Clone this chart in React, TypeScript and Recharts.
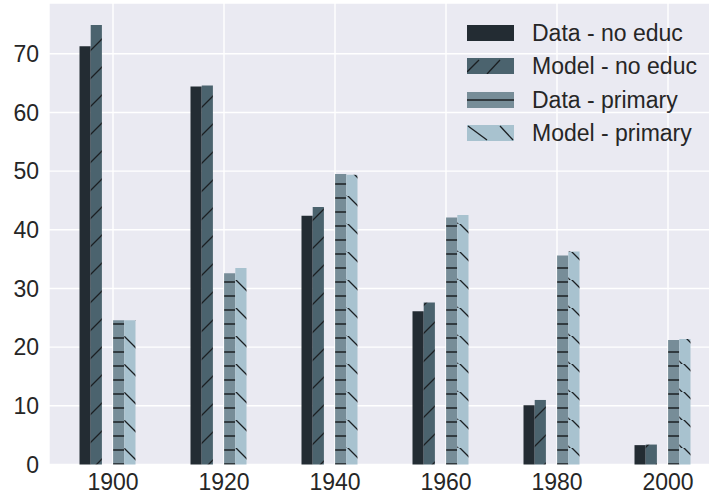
import { BarChart, Bar, XAxis, YAxis, CartesianGrid } from 'recharts';

const years = ['1900', '1920', '1940', '1960', '1980', '2000'];
const dataNoEduc = [71.3, 64.4, 42.4, 26.1, 10.1, 3.3];
const modelNoEduc = [74.9, 64.6, 43.9, 27.6, 11.0, 3.4];
const dataPrimary = [24.6, 32.6, 49.5, 42.1, 35.6, 21.2];
const modelPrimary = [24.6, 33.5, 49.4, 42.5, 36.3, 21.4];
const yTicks = [0, 10, 20, 30, 40, 50, 60, 70];

const COLORS = {
  dataNoEduc: '#232c33',
  modelNoEduc: '#4b636e',
  dataPrimary: '#778d98',
  modelPrimary: '#a8c2cf',
  hatch: '#1b1f22',
};

const FONT = '"Liberation Sans", Arial, sans-serif';
const TEXT = '#262626';
const FONT_SIZE = 23;

const chartData = years.map((year, i) => ({
  year,
  dataNoEduc: dataNoEduc[i],
  modelNoEduc: modelNoEduc[i],
  dataPrimary: dataPrimary[i],
  modelPrimary: modelPrimary[i],
}));

const legendItems = [
  { label: 'Data - no educ', color: COLORS.dataNoEduc, hatch: '' },
  { label: 'Model - no educ', color: COLORS.modelNoEduc, hatch: '/' },
  { label: 'Data - primary', color: COLORS.dataPrimary, hatch: '-' },
  { label: 'Model - primary', color: COLORS.modelPrimary, hatch: '\\' },
];

// legend drawn by hand so the hatched swatches match the bars
function LegendBox() {
  return (
    <div style={{ position: 'absolute', left: 467, top: 25, width: 245, height: 140 }}>
      {legendItems.map((item, i) => {
        const top = i * 33.4;
        return (
          <div key={item.label} style={{ position: 'absolute', left: 0, top, height: 16, width: 245 }}>
            <svg width={47} height={16} style={{ position: 'absolute', left: 0, top: 0 }}>
              <rect x={0} y={0} width={47} height={16} fill={item.color} />
              {item.hatch === '/' && (
                <g stroke={COLORS.hatch} strokeWidth={1.3}>
                  <line x1={0} y1={14} x2={12} y2={2} />
                  <line x1={20} y1={16} x2={33} y2={2} />
                </g>
              )}
              {item.hatch === '-' && (
                <line x1={0} y1={8} x2={47} y2={8} stroke={COLORS.hatch} strokeWidth={1.3} />
              )}
              {item.hatch === '\\' && (
                <g stroke={COLORS.hatch} strokeWidth={1.3}>
                  <line x1={1} y1={1} x2={20} y2={15} />
                  <line x1={33} y1={1} x2={46} y2={15} />
                </g>
              )}
            </svg>
            <span
              style={{
                position: 'absolute',
                left: 65,
                top: -5,
                fontFamily: FONT,
                fontSize: FONT_SIZE,
                color: TEXT,
                whiteSpace: 'nowrap',
                lineHeight: '26px',
              }}
            >
              {item.label}
            </span>
          </div>
        );
      })}
    </div>
  );
}

export default function App() {
  return (
    <div
      style={{
        position: 'absolute',
        left: 0,
        top: 0,
        width: 709,
        height: 497,
        overflow: 'hidden',
        background: '#fff',
      }}
    >
      <BarChart
        width={723.5}
        height={497}
        data={chartData}
        margin={{ top: 3, right: 0, left: 0, bottom: 0 }}
        barGap={0}
        barCategoryGap={0}
      >
        <defs>
          <pattern id="hatchSlash" patternUnits="userSpaceOnUse" width={28} height={28}>
            <rect x={0} y={0} width={28} height={28} fill={COLORS.modelNoEduc} />
            <g stroke={COLORS.hatch} strokeWidth={1.3}>
              <line x1={-2} y1={3} x2={3} y2={-2} />
              <line x1={-2} y1={31} x2={31} y2={-2} />
            </g>
          </pattern>
          <pattern id="hatchDash" patternUnits="userSpaceOnUse" width={28} height={14}>
            <rect x={0} y={0} width={28} height={14} fill={COLORS.dataPrimary} />
            <line x1={0} y1={2} x2={28} y2={2} stroke={COLORS.hatch} strokeWidth={1.5} />
          </pattern>
          <pattern id="hatchBack" patternUnits="userSpaceOnUse" width={28} height={28}>
            <rect x={0} y={0} width={28} height={28} fill={COLORS.modelPrimary} />
            <g stroke={COLORS.hatch} strokeWidth={1.3}>
              <line x1={-2} y1={16} x2={12} y2={30} />
              <line x1={10} y1={-2} x2={30} y2={18} />
            </g>
          </pattern>
        </defs>
        <CartesianGrid fill="#eaeaf2" stroke="#ffffff" strokeWidth={1.4} />
        <XAxis
          dataKey="year"
          height={32.5}
          axisLine={false}
          tickLine={false}
          tickSize={0}
          tickMargin={9.5}
          padding={{ left: 8.5, right: 0 }}
          tick={{ fill: TEXT, fontSize: FONT_SIZE, fontFamily: FONT }}
        />
        <YAxis
          width={49}
          domain={[0, 78.65]}
          ticks={yTicks}
          axisLine={false}
          tickLine={false}
          tickSize={0}
          tickMargin={10}
          tick={{ fill: TEXT, fontSize: FONT_SIZE, fontFamily: FONT }}
        />
        <Bar dataKey="dataNoEduc" barSize={11.2} fill={COLORS.dataNoEduc} isAnimationActive={false} />
        <Bar dataKey="modelNoEduc" barSize={11.2} fill="url(#hatchSlash)" isAnimationActive={false} />
        <Bar dataKey="gapA" barSize={11.2} fill="none" legendType="none" isAnimationActive={false} />
        <Bar dataKey="dataPrimary" barSize={11.2} fill="url(#hatchDash)" isAnimationActive={false} />
        <Bar dataKey="modelPrimary" barSize={11.2} fill="url(#hatchBack)" isAnimationActive={false} />
        <Bar dataKey="gapB" barSize={11.2} fill="none" legendType="none" isAnimationActive={false} />
      </BarChart>
      <LegendBox />
    </div>
  );
}
